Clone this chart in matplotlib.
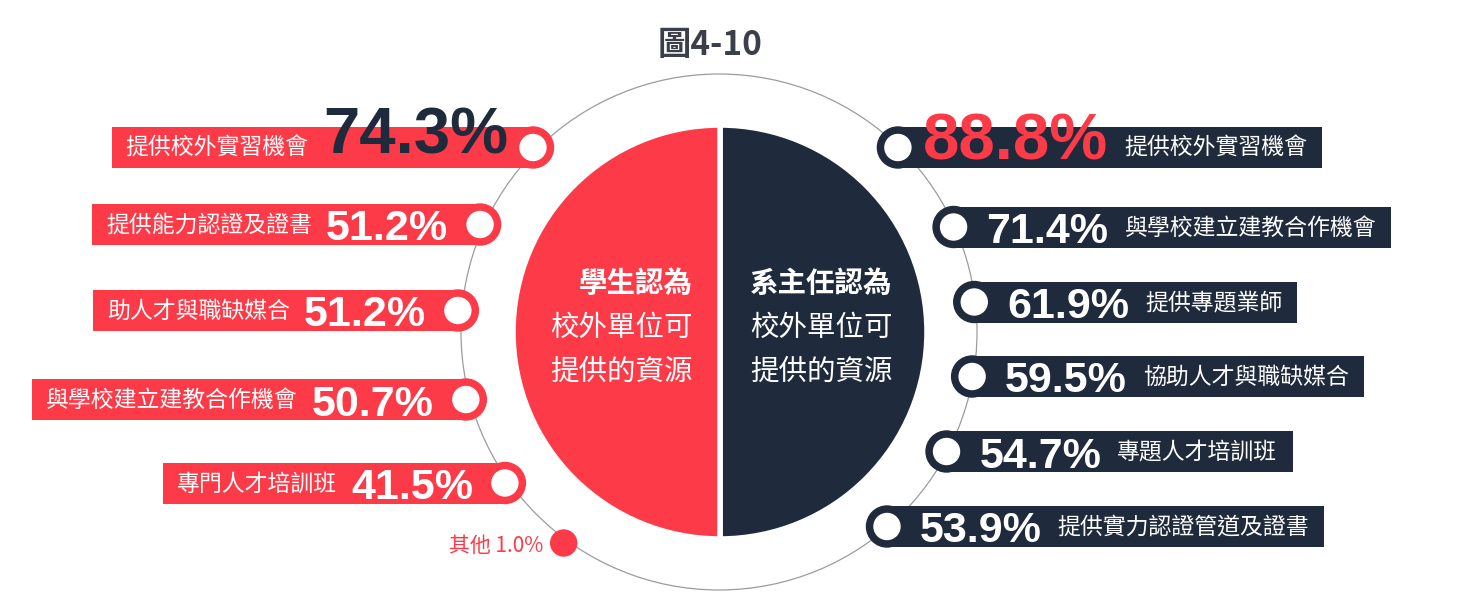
import matplotlib
matplotlib.use('Agg')
import matplotlib.pyplot as plt
from matplotlib.patches import Circle
import numpy as np

plt.rcParams['font.family'] = ['Noto Sans CJK TC', 'DejaVu Sans']

# 學生認為 (left half)
student_items = ['提供校外實習機會', '提供能力認證及證書', '助人才與職缺媒合',
                 '與學校建立建教合作機會', '專門人才培訓班']
student_pct = [74.3, 51.2, 51.2, 50.7, 41.5]
other_label = '其他'
other_pct = 1.0

# 系主任認為 (right half)
head_items = ['提供校外實習機會', '與學校建立建教合作機會', '提供專題業師',
              '協助人才與職缺媒合', '專題人才培訓班', '提供實力認證管道及證書']
head_pct = [88.8, 71.4, 61.9, 59.5, 54.7, 53.9]

title = '圖4-10'
left_center = ['學生認為', '校外單位可', '提供的資源']
right_center = ['系主任認為', '校外單位可', '提供的資源']

RED = '#fd3a48'
NAVY = '#1f2a3c'
GREY = '#9c9c9c'

# layout (pixels)
W, H = 1460, 605
cx, cy = 719, 332
pie_r = 207
ring_r = 258
left_y = [147.5, 224.5, 310.5, 399.5, 483]
right_y = [147.5, 227, 302, 376.5, 451.5, 526.5]
other_y = 543
bar_h = 41

fig = plt.figure(figsize=(W / 100, H / 100), dpi=100)
ax = fig.add_axes([0, 0, 1, 1])
ax.pie([50, 50], colors=[NAVY, RED], startangle=90, counterclock=False,
       center=(cx + 1, cy), radius=pie_r,
       wedgeprops=dict(edgecolor='white', linewidth=4))
ax.set_xlim(0, W)
ax.set_ylim(H, 0)
ax.set_aspect('equal')
ax.axis('off')

ax.add_patch(Circle((cx, cy), ring_r, fill=False, ec=GREY, lw=0.9, zorder=0))

ax.text(710, 45, title, ha='center', va='center', fontsize=24,
        fontweight='bold', color='#3b3f4a')

# centre captions
for i, s in enumerate(left_center):
    ax.text(693, 284 + i * 44, s, ha='right', va='center', fontsize=20.5,
            color='white', fontweight='bold' if i == 0 else 'normal', zorder=5)
for i, s in enumerate(right_center):
    ax.text(750, 284 + i * 44, s, ha='left', va='center', fontsize=20.5,
            color='white', fontweight='bold' if i == 0 else 'normal', zorder=5)

fig.canvas.draw()
renderer = fig.canvas.get_renderer()

# left bars
for i, (lab, p, y) in enumerate(zip(student_items, student_pct, left_y)):
    dot_x = cx - np.sqrt((ring_r + 4) ** 2 - (y - cy) ** 2)
    big = i == 0
    pt = ax.text(dot_x - (25 if big else 32), y + (6 if big else 16), f'{p:.1f}%',
                 ha='right', va='baseline', fontsize=47 if big else 31,
                 fontweight='bold', family='Liberation Sans',
                 color=NAVY if big else 'white', zorder=4)
    bb = pt.get_window_extent(renderer)
    lt = ax.text(bb.x0 - 14, y + 1, lab, ha='right', va='center', fontsize=16.5,
                 color='white', zorder=4)
    lb = lt.get_window_extent(renderer)
    left = lb.x0 - 14
    ax.barh(y, dot_x - left, left=left, height=bar_h, color=RED, zorder=2)
    ax.add_patch(Circle((dot_x, y), bar_h / 2, color=RED, zorder=2))
    ax.add_patch(Circle((dot_x, y), 13, color='white', zorder=3))

# other
ox = cx - np.sqrt((ring_r + 4) ** 2 - (other_y - cy) ** 2)
ax.add_patch(Circle((ox, other_y), 13, color=RED, zorder=3))
ax.text(ox - 20, other_y + 3, f'{other_label} {other_pct:.1f}%', ha='right',
        va='center', fontsize=15, color=RED)

# right bars
for i, (lab, p, y) in enumerate(zip(head_items, head_pct, right_y)):
    dot_x = cx + np.sqrt((ring_r - 1) ** 2 - (y - cy) ** 2)
    big = i == 0
    pt = ax.text(dot_x + (25 if big else 33), y + (12 if big else 16), f'{p:.1f}%',
                 ha='left', va='baseline', fontsize=47 if big else 31,
                 fontweight='bold', family='Liberation Sans',
                 color=RED if big else 'white', zorder=4)
    bb = pt.get_window_extent(renderer)
    lt = ax.text(bb.x1 + 16, y + 1, lab, ha='left', va='center', fontsize=16.5,
                 color='white', zorder=4)
    lb = lt.get_window_extent(renderer)
    right = lb.x1 + 15
    ax.barh(y, right - dot_x, left=dot_x, height=bar_h, color=NAVY, zorder=2)
    ax.add_patch(Circle((dot_x, y), bar_h / 2, color=NAVY, zorder=2))
    ax.add_patch(Circle((dot_x, y), 13, color='white', zorder=3))

fig.savefig('out.png', dpi=100, facecolor='white')
